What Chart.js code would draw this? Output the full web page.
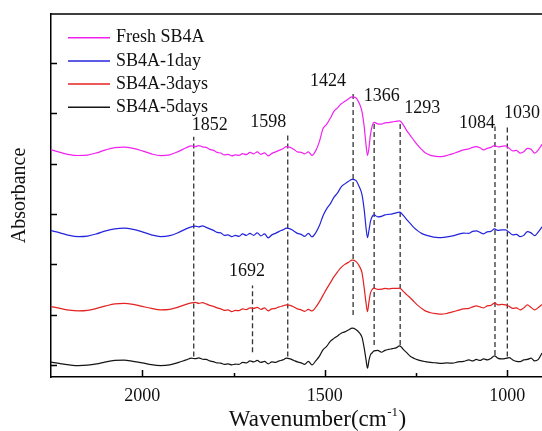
<!DOCTYPE html>
<html>
<head>
<meta charset="utf-8">
<script src="https://cdn.jsdelivr.net/npm/chart.js@4.4.1/dist/chart.umd.min.js"></script>
<style>
  html, body { margin: 0; padding: 0; background: #fff; }
  canvas { display: block; }
</style>
</head>
<body>
<canvas id="myChart" width="542" height="431"></canvas>
<script>
// Wavenumber grid (cm-1) shared by all four spectra
const wavenumbers = [2250, 2225, 2200, 2175, 2150, 2125, 2100, 2075, 2050, 2025,
    2000, 1975, 1950, 1925, 1900, 1880, 1865, 1855, 1845, 1835,
    1825, 1815, 1805, 1795, 1785, 1775, 1765, 1755, 1745, 1735,
    1725, 1715, 1705, 1695, 1685, 1675, 1665, 1655, 1645, 1635,
    1625, 1615, 1605, 1595, 1585, 1575, 1565, 1555, 1545, 1535,
    1525, 1515, 1505, 1495, 1485, 1475, 1465, 1455, 1445, 1435,
    1425, 1415, 1405, 1398, 1392, 1387, 1383, 1379, 1375, 1370,
    1365, 1355, 1345, 1335, 1325, 1315, 1305, 1295, 1285, 1275,
    1265, 1255, 1245, 1235, 1225, 1210, 1195, 1180, 1165, 1150,
    1135, 1120, 1105, 1095, 1085, 1075, 1065, 1055, 1045, 1035,
    1025, 1015, 1005, 995, 985, 975, 965, 955, 945, 935,
    925, 915, 905];

// Absorbance (offset, arbitrary units)
const fresh = [4.272, 4.222, 4.176, 4.159, 4.168, 4.212, 4.272, 4.316, 4.327, 4.302,
    4.252, 4.192, 4.157, 4.172, 4.242, 4.312, 4.351, 4.335, 4.355, 4.331,
    4.322, 4.282, 4.262, 4.222, 4.208, 4.172, 4.182, 4.153, 4.172, 4.163,
    4.196, 4.176, 4.222, 4.192, 4.232, 4.182, 4.212, 4.153, 4.202, 4.232,
    4.262, 4.292, 4.335, 4.322, 4.282, 4.232, 4.222, 4.192, 4.232, 4.163,
    4.252, 4.431, 4.689, 4.778, 4.898, 5.037, 5.106, 5.186, 5.235, 5.285,
    5.325, 5.309, 5.186, 5.027, 4.729, 4.371, 4.159, 4.312, 4.570, 4.749,
    4.818, 4.788, 4.782, 4.808, 4.812, 4.828, 4.838, 4.848, 4.769, 4.649,
    4.550, 4.451, 4.361, 4.282, 4.212, 4.163, 4.143, 4.137, 4.163, 4.192,
    4.232, 4.272, 4.292, 4.322, 4.335, 4.312, 4.272, 4.302, 4.322, 4.355,
    4.331, 4.341, 4.351, 4.302, 4.252, 4.262, 4.206, 4.232, 4.302, 4.282,
    4.206, 4.272, 4.381];

const day1 = [2.668, 2.623, 2.573, 2.549, 2.559, 2.603, 2.662, 2.702, 2.716, 2.692,
    2.643, 2.583, 2.549, 2.567, 2.633, 2.702, 2.742, 2.758, 2.742, 2.762,
    2.732, 2.702, 2.672, 2.633, 2.623, 2.573, 2.583, 2.549, 2.573, 2.553,
    2.603, 2.573, 2.613, 2.573, 2.623, 2.563, 2.603, 2.523, 2.583, 2.613,
    2.652, 2.682, 2.716, 2.702, 2.662, 2.613, 2.593, 2.553, 2.613, 2.543,
    2.623, 2.762, 2.960, 3.100, 3.199, 3.328, 3.417, 3.537, 3.596, 3.646,
    3.686, 3.666, 3.527, 3.378, 3.080, 2.722, 2.529, 2.672, 2.847, 2.951,
    2.980, 2.941, 2.951, 2.980, 2.990, 3.000, 3.020, 3.034, 2.970, 2.881,
    2.802, 2.722, 2.662, 2.613, 2.583, 2.553, 2.533, 2.529, 2.543, 2.563,
    2.593, 2.617, 2.613, 2.652, 2.662, 2.633, 2.603, 2.643, 2.652, 2.702,
    2.672, 2.682, 2.682, 2.633, 2.583, 2.593, 2.549, 2.573, 2.649, 2.623,
    2.569, 2.643, 2.742];

const day3 = [1.158, 1.123, 1.087, 1.073, 1.083, 1.123, 1.172, 1.212, 1.222, 1.202,
    1.162, 1.123, 1.093, 1.103, 1.152, 1.202, 1.232, 1.242, 1.222, 1.236,
    1.212, 1.182, 1.162, 1.133, 1.113, 1.083, 1.093, 1.059, 1.083, 1.077,
    1.113, 1.097, 1.133, 1.123, 1.142, 1.103, 1.133, 1.073, 1.113, 1.123,
    1.152, 1.172, 1.192, 1.182, 1.152, 1.113, 1.093, 1.063, 1.103, 1.073,
    1.142, 1.252, 1.381, 1.510, 1.629, 1.748, 1.848, 1.937, 1.997, 2.037,
    2.082, 2.056, 1.957, 1.828, 1.524, 1.232, 1.059, 1.252, 1.425, 1.500,
    1.524, 1.500, 1.504, 1.520, 1.510, 1.520, 1.520, 1.524, 1.460, 1.391,
    1.325, 1.252, 1.182, 1.123, 1.073, 1.037, 1.017, 1.007, 1.023, 1.053,
    1.083, 1.113, 1.123, 1.152, 1.172, 1.152, 1.133, 1.172, 1.182, 1.226,
    1.192, 1.202, 1.192, 1.162, 1.123, 1.133, 1.093, 1.133, 1.192, 1.142,
    1.093, 1.142, 1.202];

const day5 = [0.054, 0.024, 0.000, -0.014, -0.006, 0.020, 0.060, 0.089, 0.095, 0.070,
    0.040, 0.004, -0.014, 0.000, 0.050, 0.099, 0.133, 0.123, 0.139, 0.113,
    0.109, 0.079, 0.064, 0.040, 0.036, 0.010, 0.020, 0.000, 0.016, 0.010,
    0.050, 0.040, 0.079, 0.060, 0.089, 0.050, 0.070, 0.020, 0.060, 0.050,
    0.079, 0.099, 0.133, 0.119, 0.089, 0.060, 0.040, 0.010, 0.070, 0.000,
    0.079, 0.169, 0.298, 0.368, 0.467, 0.527, 0.576, 0.630, 0.656, 0.695,
    0.729, 0.705, 0.636, 0.546, 0.332, 0.099, -0.066, 0.089, 0.199, 0.242,
    0.278, 0.288, 0.252, 0.288, 0.308, 0.322, 0.338, 0.378, 0.308, 0.238,
    0.169, 0.129, 0.099, 0.079, 0.066, 0.050, 0.040, 0.030, 0.040, 0.034,
    0.060, 0.070, 0.099, 0.079, 0.109, 0.089, 0.119, 0.099, 0.129, 0.179,
    0.129, 0.119, 0.129, 0.145, 0.099, 0.070, 0.066, 0.099, 0.109, 0.133,
    0.079, 0.109, 0.238];

const seriesNames = ['Fresh SB4A', 'SB4A-1day', 'SB4A-3days', 'SB4A-5days'];
const seriesColors = ['#f022f0', '#2424dc', '#e42222', '#151515'];

// Dashed peak markers: label text, position, vertical extent
const peakLabels = ['1852', '1598', '1424', '1366', '1293', '1084', '1030', '1692'];
const markerX = [1859, 1601.5, 1422.4, 1364.8, 1293.5, 1033.8, 1000, 1698];
const markerTop = [4.53, 4.604, 5.414, 4.822, 4.802, 4.735, 4.769, 1.576];
const markerBottom = [0.165, 0.165, 0.993, 0.397, 0.397, 0.199, 0.165, 0.252];
const labelX = [1815, 1655, 1491, 1344, 1233, 1083, 960, 1713];
const labelY = [4.769, 4.818, 5.629, 5.331, 5.106, 4.802, 5.001, 1.868];

const xTickValues = [2000, 1750, 1500, 1250, 1000];
const yTickValues = [0, 1, 2, 3, 4, 5, 6];

const serif = "'Liberation Serif', 'Times New Roman', serif";

const spectra = [fresh, day1, day3, day5].map((vals, i) => ({
    label: seriesNames[i],
    data: wavenumbers.map((w, j) => ({ x: w, y: vals[j] })),
    borderColor: seriesColors[i],
    borderWidth: 1.2,
    pointRadius: 0,
    cubicInterpolationMode: 'monotone',
    fill: false,
}));

const markers = markerX.map((w, i) => ({
    label: 'marker',
    data: [{ x: w, y: markerBottom[i] }, { x: w, y: markerTop[i] }],
    borderColor: '#333',
    borderWidth: 1.3,
    borderDash: [5, 3],
    pointRadius: 0,
    fill: false,
}));

// Frame, inward ticks, legend, peak labels, x title
const decorations = {
    id: 'decorations',
    afterDraw(chart) {
        const { ctx, chartArea: a, scales: { x, y } } = chart;
        ctx.save();
        ctx.strokeStyle = '#000';
        ctx.lineWidth = 1.5;
        ctx.beginPath();
        ctx.moveTo(a.left, a.top);
        ctx.lineTo(a.right, a.top);
        yTickValues.forEach(v => {
            const py = Math.round(y.getPixelForValue(v)) + 0.5;
            ctx.moveTo(a.left, py);
            ctx.lineTo(a.left + 6, py);
        });
        xTickValues.forEach(v => {
            const px = Math.round(x.getPixelForValue(v)) + 0.5;
            const len = v % 500 === 0 ? 7 : 4;
            ctx.moveTo(px, a.bottom);
            ctx.lineTo(px, a.bottom - len);
        });
        ctx.stroke();

        // legend
        ctx.font = '18px ' + serif;
        ctx.textBaseline = 'middle';
        ctx.textAlign = 'left';
        for (let i = 0; i < 4; i++) {
            const ry = a.top + 23.7 + i * 23.2;
            ctx.strokeStyle = seriesColors[i];
            ctx.lineWidth = 1.5;
            ctx.beginPath();
            ctx.moveTo(a.left + 17, ry);
            ctx.lineTo(a.left + 59, ry);
            ctx.stroke();
            ctx.fillStyle = '#111';
            ctx.fillText(seriesNames[i], a.left + 65, ry);
        }

        // peak labels
        ctx.textAlign = 'center';
        peakLabels.forEach((t, i) => {
            ctx.fillText(t, x.getPixelForValue(labelX[i]), y.getPixelForValue(labelY[i]));
        });

        // x axis title with superscript
        ctx.textBaseline = 'alphabetic';
        ctx.textAlign = 'left';
        const big = '23px ' + serif, small = '13px ' + serif;
        ctx.font = big;
        const w1 = ctx.measureText('Wavenumber(cm').width;
        const w3 = ctx.measureText(')').width;
        ctx.font = small;
        const w2 = ctx.measureText('-1').width;
        let tx = 317 - (w1 + w2 + w3) / 2;
        const base = 426;
        ctx.font = big;
        ctx.fillText('Wavenumber(cm', tx, base);
        ctx.font = small;
        ctx.fillText('-1', tx + w1 + 0.5, base - 10);
        ctx.font = big;
        ctx.fillText(')', tx + w1 + w2 + 1, base);
        ctx.restore();
    }
};

const config = {
    type: 'line',
    data: { datasets: [...spectra, ...markers] },
    options: {
        responsive: false,
        animation: false,
        devicePixelRatio: 1,
        layout: { padding: { top: 14, right: 0, left: 0, bottom: 0 } },
        plugins: {
            legend: { display: false },
            tooltip: { enabled: false },
        },
        scales: {
            x: {
                type: 'linear',
                reverse: true,
                min: 905,
                max: 2250,
                afterFit: s => { s.height = 54; },
                afterBuildTicks: s => { s.ticks = xTickValues.map(v => ({ value: v })); },
                grid: { display: false, drawTicks: false },
                border: { display: true, color: '#000', width: 1.5 },
                ticks: {
                    autoSkip: false,
                    maxRotation: 0,
                    padding: 8,
                    color: '#111',
                    font: { family: serif, size: 18 },
                    callback: v => (v % 500 === 0 ? String(v) : ''),
                },
            },
            y: {
                min: -0.24,
                max: 6.97,
                afterFit: s => { s.width = 51; },
                grid: { display: false, drawTicks: false },
                border: { display: true, color: '#000', width: 1.5 },
                ticks: { display: false },
                title: {
                    display: true,
                    text: 'Absorbance',
                    color: '#111',
                    font: { family: serif, size: 20 },
                    padding: { top: 8, bottom: 0 },
                },
            },
        },
    },
    plugins: [decorations],
};

const ctx = document.getElementById('myChart').getContext('2d');
const myChart = new Chart(ctx, config);
</script>
</body>
</html>
